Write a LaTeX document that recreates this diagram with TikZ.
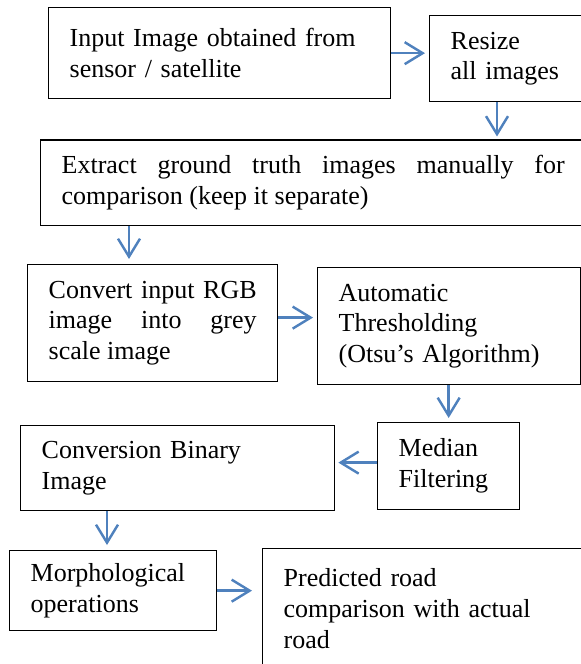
\documentclass[tikz,border=0pt]{standalone}
\usepackage{fontspec}
\setmainfont{Liberation Serif}
\usetikzlibrary{arrows.meta, positioning}
\definecolor{flowblue}{RGB}{79,129,189}
\newlength{\upx}
\setlength{\upx}{0.45pt}

\begin{document}
\begin{tikzpicture}[
  x=0.45pt, y=-0.45pt,
  font=\fontsize{11.7}{13.9}\selectfont,
  box/.style={draw, line width=0.6pt, anchor=north west, inner xsep=21\upx,
              inner ysep=0pt, align=left},
  jbox/.style={box, align=justify},
  arr/.style={flowblue, line width=1.1pt,
              -{Straight Barb[length=8.1pt, width=9.9pt]}}
]
  \useasboundingbox (0,0) rectangle (581,664);
  \clip (0,0) rectangle (581,664);

  % boxes
  \node[box, text width=300\upx, minimum height=91\upx] (inp) at (48,7)
    {Input Image obtained from\\sensor / satellite};
  \node[box, text width=129\upx, minimum height=86\upx] (rsz) at (429,15)
    {Resize\\all images};
  \node[jbox, text width=503\upx, minimum height=85.5\upx] (ext) at (40,139.5)
    {Extract ground truth images manually for\linebreak comparison (keep it separate)};
  \node[jbox, text width=208\upx, minimum height=117\upx] (cnv) at (27,264)
    {Convert input RGB\linebreak image into grey\linebreak scale image};
  \node[box, text width=221\upx, minimum height=117\upx] (thr) at (317,267)
    {Automatic\\Thresholding\\(Otsu’s Algorithm)};
  \node[box, text width=100\upx, minimum height=87\upx] (med) at (377,422)
    {Median\\Filtering};
  \node[box, text width=272\upx, minimum height=85\upx] (bin) at (20,425)
    {Conversion Binary\\Image};
  \node[box, text width=165\upx, minimum height=80\upx] (mor) at (9,550)
    {Morphological\\operations};
  \node[box, text width=296\upx, minimum height=120\upx] (prd) at (262,548)
    {Predicted road\\comparison with actual\\road};

  % connectors
  \coordinate (a2) at ([xshift=30.6pt]rsz.south west);
  \coordinate (a3) at ([xshift=40.05pt]ext.south west);
  \coordinate (a4) at ([yshift=2.5pt]cnv.east);
  \coordinate (a6) at ([yshift=1.6pt]med.west);
  \coordinate (a7) at ([xshift=39.15pt]bin.south west);

  \draw[arr, shorten >=1.8pt] (inp.east) -- (inp.east -| rsz.west);
  \draw[arr, shorten >=1.35pt] (a2) -- (a2 |- ext.north);
  \draw[arr, shorten >=2.25pt] (a3) -- (a3 |- cnv.north);
  \draw[arr, shorten >=1.8pt] (a4) -- (a4 -| thr.west);
  \draw[arr, shorten >=1.8pt] (thr.south -| med.north) -- (med.north);
  \draw[arr, shorten >=1.35pt] (a6) -- (a6 -| bin.east);
  \draw[arr, shorten >=2.25pt] (a7) -- (a7 |- mor.north);
  \draw[arr, shorten >=4.5pt] (mor.east) -- (mor.east -| prd.west);

\end{tikzpicture}
\end{document}
